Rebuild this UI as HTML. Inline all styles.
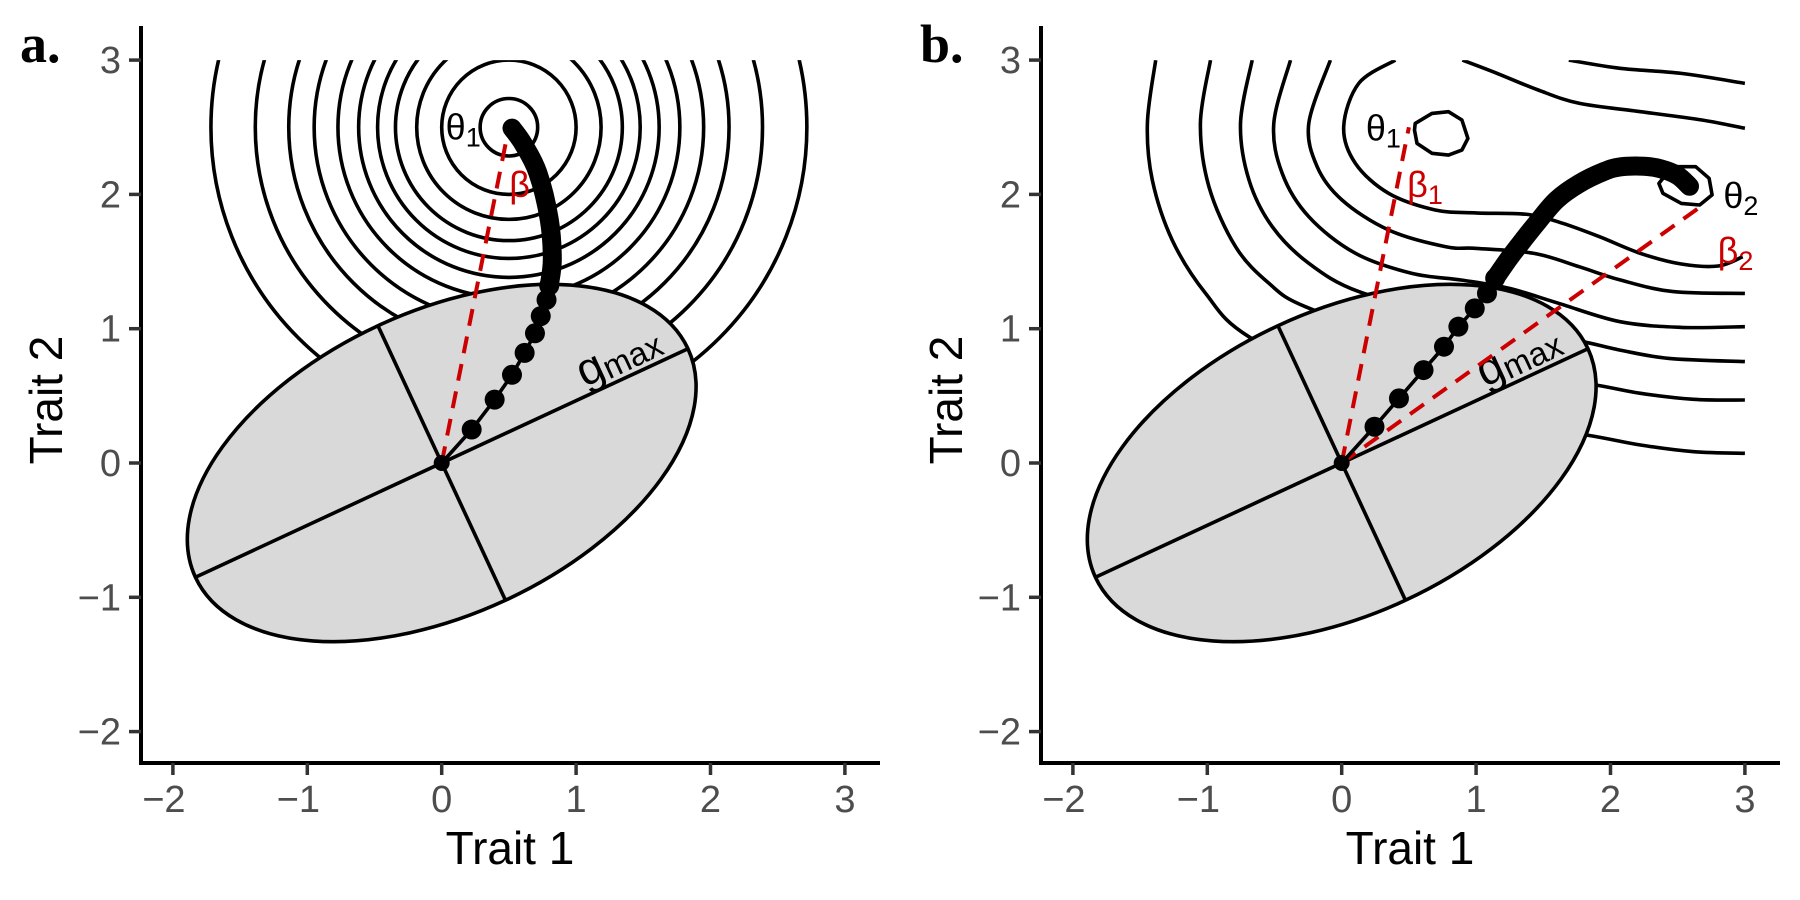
<!DOCTYPE html>
<html><head><meta charset="utf-8"><style>
body{margin:0;background:#fff}
svg{display:block}
text{font-family:"Liberation Sans",sans-serif}
</style></head><body>
<svg id="fig" width="1800" height="900" viewBox="0 0 1800 900" xmlns="http://www.w3.org/2000/svg"></svg>
<script>
// ---- data ----
const xTicks=[-2,-1,0,1,2,3];
const yTicks=[-2,-1,0,1,2,3];
const tickLabels=["\u22122","\u22121","0","1","2","3"];
const ellipseA=2.02, ellipseB=1.127, ellipseAngleDeg=24.9;
const theta1=[0.5,2.5];
const contourRadiiA=[0.214,0.5,0.686,0.844,0.977,1.118,1.272,1.449,1.638,1.887,2.217];
const pathDotsA=[[0,0],[0.223,0.249],[0.394,0.472],[0.523,0.657],[0.617,0.820],[0.694,0.966],[0.737,1.094],[0.780,1.215],[0.80,1.32]];
const pathTrailA=[[0.80,1.32],[0.823,1.515],[0.80,1.815],[0.716,2.159],[0.609,2.373],[0.523,2.494]];
const betaA=[[0,0],[0.5,2.5]];
const contoursB=[
 [[-1.384,3.0],[-1.446,2.529],[-1.409,2.107],[-1.261,1.660],[-1.013,1.263],[-0.690,0.940],[0.2,0.5],[1.2,0.3],[1.827,0.208],[2.223,0.134],[2.619,0.084],[3.0,0.072]],
 [[-0.976,3.0],[-1.051,2.529],[-0.988,2.058],[-0.790,1.611],[-0.542,1.338],[-0.270,1.164],[0.5,0.9],[1.4,0.65],[1.888,0.581],[2.223,0.519],[2.619,0.474],[3.0,0.469]],
 [[-0.666,3.0],[-0.753,2.529],[-0.690,2.107],[-0.517,1.760],[-0.245,1.487],[0.127,1.276],[0.8,1.1],[1.5,0.95],[1.797,0.903],[2.071,0.841],[2.436,0.779],[3.0,0.755]],
 [[-0.381,3.0],[-0.505,2.529],[-0.443,2.157],[-0.245,1.834],[0.101,1.562],[0.522,1.412],[0.894,1.362],[1.248,1.30],[1.614,1.189],[2.071,1.052],[2.527,1.010],[3.0,1.015]],
 [[-0.084,3.0],[-0.245,2.529],[-0.183,2.207],[0.002,1.958],[0.349,1.735],[0.770,1.611],[1.005,1.598],[1.431,1.561],[1.766,1.462],[2.071,1.363],[2.466,1.276],[3.0,1.263]],
 [[0.399,3.0],[0.127,2.827],[0.015,2.504],[0.101,2.232],[0.349,2.008],[0.696,1.884],[1.0,1.862],[1.389,1.85],[1.644,1.785],[1.918,1.685],[2.223,1.561],[2.527,1.482],[2.801,1.467],[2.984,1.536]],
 [[0.898,3.0],[1.157,2.901],[1.462,2.777],[1.766,2.678],[2.223,2.616],[2.680,2.554],[3.0,2.492]],
 [[1.690,3.0],[2.071,2.939],[2.527,2.901],[3.0,2.827]]
];
const loopTheta1B=[[0.547,2.529],[0.671,2.603],[0.795,2.616],[0.894,2.554],[0.939,2.417],[0.894,2.330],[0.795,2.293],[0.671,2.306],[0.560,2.380],[0.542,2.479]];
const loopTheta2B=[[2.482,2.206],[2.634,2.206],[2.734,2.120],[2.756,1.996],[2.664,1.921],[2.527,1.933],[2.390,2.008],[2.360,2.082],[2.421,2.157]];
const pathDotsB=[[0,0],[0.244,0.27],[0.426,0.481],[0.609,0.692],[0.761,0.866],[0.868,1.015],[0.990,1.151],[1.081,1.263],[1.142,1.375]];
const pathTrailB=[[1.142,1.375],[1.25,1.53],[1.35,1.66],[1.462,1.80],[1.6,1.96],[1.766,2.08],[1.95,2.17],[2.071,2.205],[2.25,2.21],[2.375,2.19],[2.50,2.14],[2.588,2.06]];
const beta1B=[[0,0],[0.5,2.5]];
const beta2B=[[0,0],[2.7,1.93]];

// ---- drawing ----
const NS="http://www.w3.org/2000/svg";
const svg=document.getElementById('fig');
function el(tag,attrs,parent){const e=document.createElementNS(NS,tag);for(const k in attrs)e.setAttribute(k,attrs[k]);(parent||svg).appendChild(e);return e;}
const X0=441.7, UX=134.4, Y0=463, UY=134.3;
const LW=3.6;

function smoothPath(P,closed){
  const n=P.length; let d='M'+P[0][0].toFixed(1)+','+P[0][1].toFixed(1);
  const get=i=>closed?P[(i+n)%n]:P[Math.max(0,Math.min(n-1,i))];
  const segs=closed?n:n-1;
  for(let i=0;i<segs;i++){
    const p0=get(i-1),p1=get(i),p2=get(i+1),p3=get(i+2);
    const c1=[p1[0]+(p2[0]-p0[0])/6,p1[1]+(p2[1]-p0[1])/6];
    const c2=[p2[0]-(p3[0]-p1[0])/6,p2[1]-(p3[1]-p1[1])/6];
    d+=' C'+c1[0].toFixed(1)+','+c1[1].toFixed(1)+' '+c2[0].toFixed(1)+','+c2[1].toFixed(1)+' '+p2[0].toFixed(1)+','+p2[1].toFixed(1);
  }
  return d+(closed?'Z':'');
}

function panel(ox,label,key){
  const g=el('g',{});
  
  
  const sx=v=>ox+X0+UX*v, sy=v=>Y0-UY*v;
  const clipId='clip'+key;
  const cp=el('clipPath',{id:clipId},g);
  el('rect',{x:ox+141,y:sy(3),width:sx(3.02)-(ox+141),height:763-sy(3)},cp);
  const cg=el('g',{'clip-path':'url(#'+clipId+')'},g);
  
  
  const pp=a=>a.map(p=>[sx(p[0]),sy(p[1])]);
  const pts=a=>a.map(p=>sx(p[0]).toFixed(1)+','+sy(p[1]).toFixed(1)).join(' ');
  if(key==='a'){
    contourRadiiA.forEach((r,i)=>{
      const c=el('ellipse',{cx:sx(theta1[0]),cy:sy(theta1[1]),rx:r*UX,ry:r*UY,fill:'none',stroke:'#000','stroke-width':LW},cg);
      
      
    });
  } else {
    contoursB.forEach((c,i)=>{
      const p=el('path',{d:smoothPath(pp(c),false),fill:'none',stroke:'#000','stroke-width':LW},cg);
      
      
    });
    [loopTheta1B,loopTheta2B].forEach((c,i)=>{
      const p=el('polygon',{points:pts(c),fill:'none',stroke:'#000','stroke-width':LW,'stroke-linejoin':'round'},cg);
      
      
    });
  }
  // G ellipse
  const e=el('ellipse',{cx:sx(0),cy:sy(0),rx:ellipseA*UX,ry:ellipseB*UY,fill:'#d9d9d9',stroke:'#000','stroke-width':LW,transform:'rotate('+(-ellipseAngleDeg)+' '+sx(0)+' '+sy(0)+')'},g);
  
  
  const t=ellipseAngleDeg*Math.PI/180, c=Math.cos(t), s=Math.sin(t);
  const maj=el('line',{x1:sx(-ellipseA*c),y1:sy(-ellipseA*s),x2:sx(ellipseA*c),y2:sy(ellipseA*s),stroke:'#000','stroke-width':LW},g);
  
  
  const mn=el('line',{x1:sx(-ellipseB*s),y1:sy(ellipseB*c),x2:sx(ellipseB*s),y2:sy(-ellipseB*c),stroke:'#000','stroke-width':LW},g);
  
  
  // gmax label
  const gl=el('text',{x:0,y:0,'font-size':46,fill:'#000',transform:'translate('+sx(1.36)+','+sy(0.70)+') rotate('+(-ellipseAngleDeg)+')','text-anchor':'middle'},g);
  
  
  gl.innerHTML='g<tspan font-size="33" dy="3">max</tspan>';
  // beta lines
  const betas= key==='a'?[betaA]:[beta1B,beta2B];
  betas.forEach((b,i)=>{
    const l=el('line',{x1:sx(b[0][0]),y1:sy(b[0][1]),x2:sx(b[1][0]),y2:sy(b[1][1]),stroke:'#cc0000','stroke-width':4,'stroke-dasharray':'17 11'},g);
    
    
  });
  // path
  const trail= key==='a'?pathTrailA:pathTrailB;
  const dots= key==='a'?pathDotsA:pathDotsB;
  const pl=el('polyline',{points:pts(dots),fill:'none',stroke:'#000','stroke-width':LW},g);
  
  
  const tr=el('path',{d:smoothPath(pp(trail),false),fill:'none',stroke:'#000','stroke-width':19,'stroke-linecap':'round','stroke-linejoin':'round'},g);
  
  
  dots.forEach((d,i)=>{
    const cc=el('circle',{cx:sx(d[0]),cy:sy(d[1]),r:i===0?8:10,fill:'#000'},g);
    
    
  });
  // labels
  function lab(txt,sub,x,y,color,name){
    const tt=el('text',{x:sx(x),y:sy(y),'font-size':36,fill:color,'text-anchor':'middle'},g);
    
    
    tt.innerHTML=txt+'<tspan font-size="27" dy="7">'+sub+'</tspan>';
  }
  if(key==='a'){
    lab('\u03b8','1',0.16,2.41,'#000','theta1-label');
    lab('\u03b2','',0.58,1.98,'#cc0000','beta-label');
  } else {
    lab('\u03b8','1',0.31,2.40,'#000','theta1-label');
    lab('\u03b2','1',0.62,1.98,'#cc0000','beta1-label');
    lab('\u03b8','2',2.97,1.90,'#000','theta2-label');
    lab('\u03b2','2',2.93,1.49,'#cc0000','beta2-label');
  }
  // axes
  const ya=el('line',{x1:ox+141,y1:26,x2:ox+141,y2:765,stroke:'#000','stroke-width':4},g);
  
  
  const xa=el('line',{x1:ox+139,y1:763,x2:ox+880,y2:763,stroke:'#000','stroke-width':4},g);
  
  
  xTicks.forEach((v,i)=>{
    const tk=el('line',{x1:sx(v),y1:763,x2:sx(v),y2:775,stroke:'#333','stroke-width':3.5},g);
    
    
    const tl=el('text',{x:sx(v)-(v<0?9:0),y:812,'font-size':38,fill:'#4d4d4d','text-anchor':'middle'},g);
    
    
    tl.textContent=tickLabels[i];
  });
  yTicks.forEach((v,i)=>{
    const tk=el('line',{x1:ox+129,y1:sy(v),x2:ox+141,y2:sy(v),stroke:'#333','stroke-width':3.5},g);
    
    
    const tl=el('text',{x:ox+121,y:sy(v)+13,'font-size':38,fill:'#4d4d4d','text-anchor':'end'},g);
    
    
    tl.textContent=tickLabels[i];
  });
  const xt=el('text',{x:ox+510,y:864,'font-size':46,fill:'#000','text-anchor':'middle'},g);
  
  
  xt.textContent='Trait 1';
  const yt=el('text',{x:0,y:0,'font-size':46,fill:'#000','text-anchor':'middle',transform:'translate('+(ox+62)+',400) rotate(-90)'},g);
  
  
  yt.textContent='Trait 2';
  const pl2=el('text',{x:ox+20,y:62,'font-size':54,'font-weight':'bold',fill:'#000',style:'font-family:"Liberation Serif",serif'},g);
  
  
  pl2.textContent=label;
}
panel(0,'a.','a');
panel(900,'b.','b');
</script>
</body></html>
